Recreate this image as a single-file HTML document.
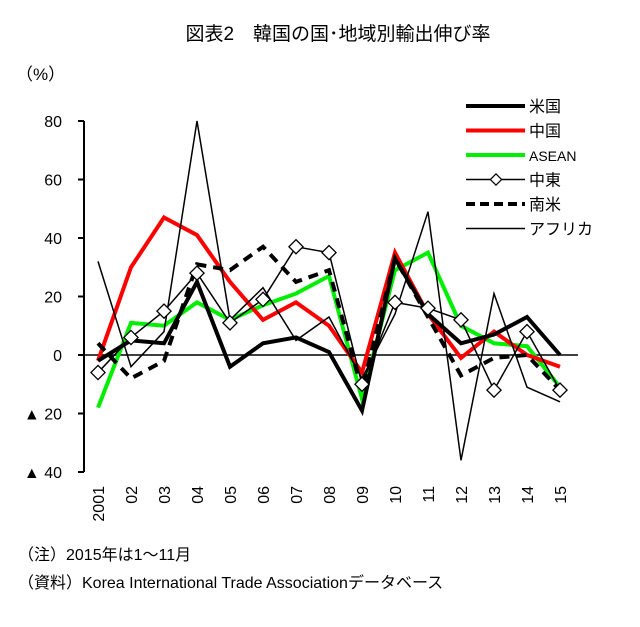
<!DOCTYPE html>
<html><head><meta charset="utf-8"><style>
body{margin:0;background:#fff;width:640px;height:622px;overflow:hidden;font-family:"Liberation Sans","Noto Sans CJK JP",sans-serif}
svg text{font-family:"Liberation Sans","Noto Sans CJK JP",sans-serif}
</style></head><body>
<svg id="chart" width="640" height="622" viewBox="0 0 640 622" xmlns="http://www.w3.org/2000/svg">
<text x="338" y="40" font-size="19" text-anchor="middle">図表2　韓国の国･地域別輸出伸び率</text>
<text x="16" y="80" font-size="17">（%）</text>
<g id="axes"></g><g id="series"></g><g id="legend"></g>
<text x="18" y="560" font-size="16">（注）2015年は1～11月</text>
<text x="18" y="588" font-size="16">（資料）Korea International Trade Associationデータベース</text>
</svg>
<script>
const categories=["2001","02","03","04","05","06","07","08","09","10","11","12","13","14","15"];
const yTicks=[80,60,40,20,0,-20,-40];
const yTickLabels=["80","60","40","20","0","▲ 20","▲ 40"];
const usValues=[-2,5,4,25,-4,4,6,1,-19,33,14,4,7,13,0];
const chinaValues=[-2,30,47,41,25,12,18,10,-6,35,14,-1,8,0,-4];
const aseanValues=[-18,11,10,18,12,17,21,27,-15,29,35,10,4,3,-11];
const middleEastValues=[-6,6,15,28,11,19,37,35,-10,18,16,12,-12,8,-12];
const southAmericaValues=[4,-8,-2,31,29,37,25,29,-12,33,13,-7,-1,0,-12];
const africaValues=[32,-4,8,80,12,23,5,13,-8,14,49,-36,21,-11,-16];
const seriesNames=["米国","中国","ASEAN","中東","南米","アフリカ"];
const NS="http://www.w3.org/2000/svg";
const x=i=>98+i*33;
const y=v=>355-v*2.925;
function mk(t,a,p){const e=document.createElementNS(NS,t);for(const k in a)e.setAttribute(k,a[k]);p.appendChild(e);return e;}
const axes=document.getElementById('axes');
const ax=mk('line',{x1:84,y1:y(80),x2:84,y2:y(-40),stroke:'#000','stroke-width':2},axes);


yTicks.forEach((t,i)=>{
 const tk=mk('line',{x1:78,x2:84,y1:y(t),y2:y(t),stroke:'#000','stroke-width':2},axes);
 
 
 const lb=mk('text',{x:i>=5?62:62,y:y(t)+6,'font-size':16,'text-anchor':'end'},axes);
 lb.textContent=yTickLabels[i];
 
 
});
const zl=mk('line',{x1:84,x2:578,y1:y(0),y2:y(0),stroke:'#000','stroke-width':1.5},axes);


categories.forEach((c,i)=>{
 const t=mk('text',{x:0,y:0,'font-size':16,'text-anchor':'end',transform:`translate(${x(i)+6},${i==0?486:486}) rotate(-90)`},axes);
 t.textContent=c;
 
 
});
const styles=[
 {d:usValues,c:'#000',w:4,dash:null,n:'series-us'},
 {d:chinaValues,c:'#ff0000',w:4,dash:null,n:'series-china'},
 {d:aseanValues,c:'#00ee00',w:4,dash:null,n:'series-asean'},
 {d:middleEastValues,c:'#000',w:1.5,dash:null,n:'series-middle-east',m:true},
 {d:southAmericaValues,c:'#000',w:4,dash:'10,7',n:'series-south-america'},
 {d:africaValues,c:'#000',w:1.5,dash:null,n:'series-africa'}
];
const sg=document.getElementById('series');
[2,1,4,5,0,3].forEach(k=>{
 const s=styles[k];
 const p=mk('polyline',{points:s.d.map((v,i)=>x(i)+','+y(v)).join(' '),fill:'none',stroke:s.c,'stroke-width':s.w,'stroke-linejoin':'miter'},sg);
 if(s.dash)p.setAttribute('stroke-dasharray',s.dash);
 
 
 if(s.m)s.d.forEach((v,i)=>{
  const r=mk('rect',{x:-5,y:-5,width:10,height:10,fill:'#fff',stroke:'#000','stroke-width':1.3,transform:`translate(${x(i)},${y(v)}) rotate(45)`},sg);
  
  
 });
});
const lg=document.getElementById('legend');
styles.forEach((s,i)=>{
 const yy=106+i*24.5;
 const l=mk('line',{x1:466,x2:525,y1:yy,y2:yy,stroke:s.c,'stroke-width':s.w},lg);
 if(s.dash)l.setAttribute('stroke-dasharray','9,5');
 
 
 if(s.m){const r=mk('rect',{x:-4,y:-4,width:8,height:8,fill:'#fff',stroke:'#000','stroke-width':1.2,transform:`translate(496,${yy}) rotate(45)`},lg);
 
 }
 const t=mk('text',{x:529,y:yy+6,'font-size':i==2?14:16},lg);
 t.textContent=seriesNames[i];
 
 
});
</script>
</body></html>
